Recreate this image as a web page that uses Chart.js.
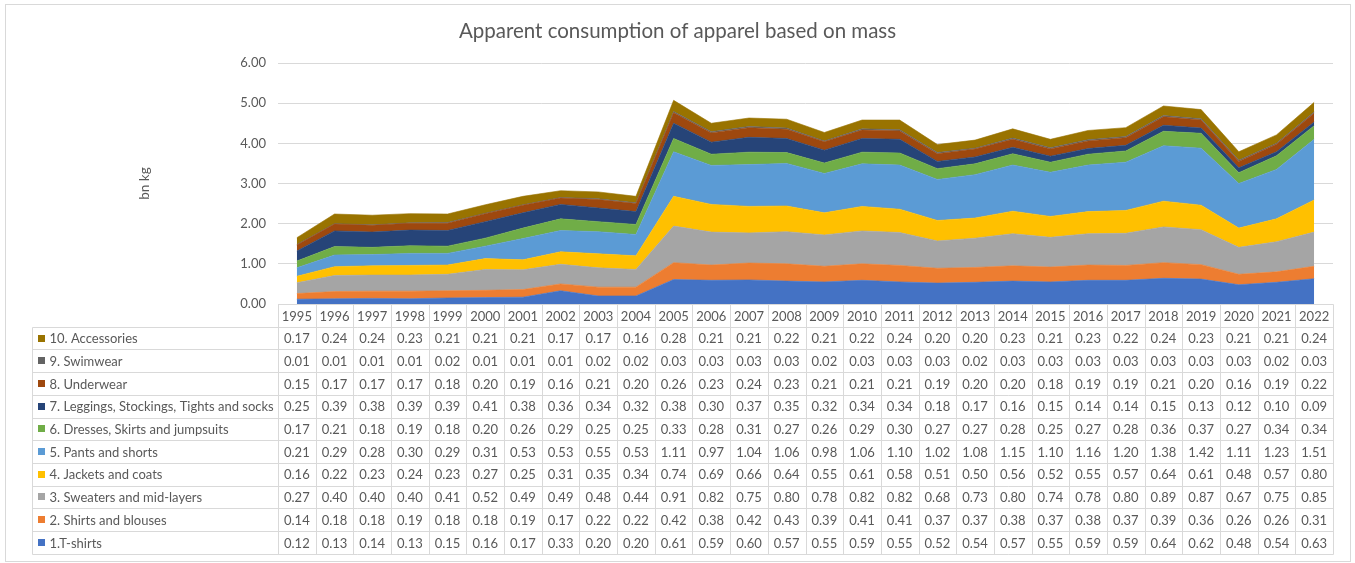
<!DOCTYPE html>
<html>
<head>
<meta charset="utf-8">
<script src="https://cdn.jsdelivr.net/npm/chart.js@4.4.1/dist/chart.umd.min.js"></script>
<style>
  html, body { margin: 0; padding: 0; background: #ffffff; }
  #wrap { width: 1355px; height: 563px; }
</style>
</head>
<body>
<div id="wrap"><canvas id="chart" width="1355" height="563"></canvas></div>
<script>
// Apparent consumption of apparel by category, bn kg
const years = ['1995','1996','1997','1998','1999','2000','2001','2002','2003','2004','2005','2006','2007','2008','2009','2010','2011','2012','2013','2014','2015','2016','2017','2018','2019','2020','2021','2022'];

const categories = [
  '1.T-shirts',
  '2. Shirts and blouses',
  '3. Sweaters and mid-layers',
  '4. Jackets and coats',
  '5. Pants and shorts',
  '6. Dresses, Skirts and jumpsuits',
  '7. Leggings, Stockings, Tights and socks',
  '8. Underwear',
  '9. Swimwear',
  '10. Accessories'
];

const tshirts     = [0.12,0.13,0.14,0.13,0.15,0.16,0.17,0.33,0.20,0.20,0.61,0.59,0.60,0.57,0.55,0.59,0.55,0.52,0.54,0.57,0.55,0.59,0.59,0.64,0.62,0.48,0.54,0.63];
const shirts      = [0.14,0.18,0.18,0.19,0.18,0.18,0.19,0.17,0.22,0.22,0.42,0.38,0.42,0.43,0.39,0.41,0.41,0.37,0.37,0.38,0.37,0.38,0.37,0.39,0.36,0.26,0.26,0.31];
const sweaters    = [0.27,0.40,0.40,0.40,0.41,0.52,0.49,0.49,0.48,0.44,0.91,0.82,0.75,0.80,0.78,0.82,0.82,0.68,0.73,0.80,0.74,0.78,0.80,0.89,0.87,0.67,0.75,0.85];
const jackets     = [0.16,0.22,0.23,0.24,0.23,0.27,0.25,0.31,0.35,0.34,0.74,0.69,0.66,0.64,0.55,0.61,0.58,0.51,0.50,0.56,0.52,0.55,0.57,0.64,0.61,0.48,0.57,0.80];
const pants       = [0.21,0.29,0.28,0.30,0.29,0.31,0.53,0.53,0.55,0.53,1.11,0.97,1.04,1.06,0.98,1.06,1.10,1.02,1.08,1.15,1.10,1.16,1.20,1.38,1.42,1.11,1.23,1.51];
const dresses     = [0.17,0.21,0.18,0.19,0.18,0.20,0.26,0.29,0.25,0.25,0.33,0.28,0.31,0.27,0.26,0.29,0.30,0.27,0.27,0.28,0.25,0.27,0.28,0.36,0.37,0.27,0.34,0.34];
const leggings    = [0.25,0.39,0.38,0.39,0.39,0.41,0.38,0.36,0.34,0.32,0.38,0.30,0.37,0.35,0.32,0.34,0.34,0.18,0.17,0.16,0.15,0.14,0.14,0.15,0.13,0.12,0.10,0.09];
const underwear   = [0.15,0.17,0.17,0.17,0.18,0.20,0.19,0.16,0.21,0.20,0.26,0.23,0.24,0.23,0.21,0.21,0.21,0.19,0.20,0.20,0.18,0.19,0.19,0.21,0.20,0.16,0.19,0.22];
const swimwear    = [0.01,0.01,0.01,0.01,0.02,0.01,0.01,0.01,0.02,0.02,0.03,0.03,0.03,0.03,0.02,0.03,0.03,0.03,0.02,0.03,0.03,0.03,0.03,0.03,0.03,0.03,0.02,0.03];
const accessories = [0.17,0.24,0.24,0.23,0.21,0.21,0.21,0.17,0.17,0.16,0.28,0.21,0.21,0.22,0.21,0.22,0.24,0.20,0.20,0.23,0.21,0.23,0.22,0.24,0.23,0.21,0.21,0.24];

const yTicks = [0, 1, 2, 3, 4, 5, 6];

const seriesValues = [tshirts, shirts, sweaters, jackets, pants, dresses, leggings, underwear, swimwear, accessories];
const colors = ['#4472C4','#ED7D31','#A5A5A5','#FFC000','#5B9BD5','#70AD47','#264478','#9E480E','#636363','#997300'];

const FONT = 'Lato, "Open Sans", sans-serif';
const TEXT = '#595959';
const RULE = '#D9D9D9';

const datasets = seriesValues.map((vals, i) => ({
  label: categories[i],
  data: vals,
  backgroundColor: colors[i],
  borderColor: colors[i],
  borderWidth: 0.6,
  pointRadius: 0,
  pointHoverRadius: 0,
  tension: 0,
  fill: i === 0 ? 'origin' : '-1'
}));

// Chart frame and data table underneath the plot
const tablePlugin = {
  id: 'dataTable',
  beforeDraw(chart) {
    const ctx = chart.ctx;
    ctx.save();
    ctx.fillStyle = '#ffffff';
    ctx.fillRect(0, 0, chart.width, chart.height);
    ctx.strokeStyle = RULE;
    ctx.lineWidth = 1;
    ctx.strokeRect(5.5, 4.5, 1345, 557);
    ctx.restore();
  },
  afterDraw(chart) {
    const ctx = chart.ctx;
    const area = chart.chartArea;
    const xs = chart.scales.x;
    const L = area.left, R = area.right;
    const colW = (R - L) / years.length;
    const top = area.bottom;
    const rowH = 22.7;
    const nRows = categories.length + 1;
    const bottom = top + rowH * nRows;
    const labelLeft = 32;
    const px = v => Math.round(v) + 0.5;

    ctx.save();
    ctx.strokeStyle = RULE;
    ctx.lineWidth = 1;
    ctx.beginPath();
    // header top
    ctx.moveTo(px(L) - 0.5, px(top)); ctx.lineTo(px(R), px(top));
    // row separators
    for (let r = 1; r <= nRows; r++) {
      const y = px(top + r * rowH);
      ctx.moveTo(labelLeft + 0.5, y); ctx.lineTo(px(R), y);
    }
    // column separators
    for (let c = 0; c <= years.length; c++) {
      const x = px(L + c * colW);
      ctx.moveTo(x, px(top)); ctx.lineTo(x, px(bottom));
    }
    // label column left edge
    ctx.moveTo(labelLeft + 0.5, px(top + rowH)); ctx.lineTo(labelLeft + 0.5, px(bottom));
    ctx.stroke();

    ctx.fillStyle = TEXT;
    ctx.font = '13px ' + FONT;
    ctx.textAlign = 'center';
    ctx.textBaseline = 'middle';
    years.forEach((y, i) => {
      ctx.fillText(y, xs.getPixelForValue(i), top + rowH * 0.5 + 1);
    });

    for (let r = 0; r < categories.length; r++) {
      const s = categories.length - 1 - r;
      const cy = top + rowH * (r + 1.5) + 1;
      ctx.fillStyle = colors[s];
      ctx.fillRect(38, Math.round(cy - 4.5), 7, 7);
      ctx.fillStyle = TEXT;
      ctx.textAlign = 'left';
      ctx.fillText(categories[s], 49.5, cy);
      ctx.textAlign = 'center';
      seriesValues[s].forEach((v, i) => {
        ctx.fillText(v.toFixed(2), xs.getPixelForValue(i), cy);
      });
    }
    ctx.restore();
  }
};

new Chart(document.getElementById('chart'), {
  type: 'line',
  data: { labels: years, datasets },
  plugins: [tablePlugin],
  options: {
    responsive: false,
    animation: false,
    events: [],
    layout: { padding: { left: 22, right: 22, top: 0, bottom: 259 } },
    plugins: {
      legend: { display: false },
      tooltip: { enabled: false },
      title: {
        display: true,
        text: 'Apparent consumption of apparel based on mass',
        color: TEXT,
        font: { family: FONT, size: 20.5, weight: 'normal', lineHeight: 1.2 },
        padding: { top: 18.7, bottom: 19.7 }
      }
    },
    scales: {
      x: {
        type: 'category',
        offset: true,
        display: false
      },
      y: {
        stacked: true,
        min: 0,
        max: 6,
        afterBuildTicks(scale) { scale.ticks = yTicks.map(v => ({ value: v })); },
        afterFit(scale) { scale.width = 256; },
        border: { display: false },
        grid: { color: RULE, lineWidth: 1, drawTicks: false },
        ticks: {
          color: TEXT,
          padding: 12,
          font: { family: FONT, size: 13 },
          callback: v => Number(v).toFixed(2)
        },
        title: {
          display: true,
          text: 'bn kg',
          color: TEXT,
          padding: { top: 114.5, bottom: 0 },
          font: { family: FONT, size: 13.5, lineHeight: 1.2 }
        }
      }
    }
  }
});
</script>
</body>
</html>
